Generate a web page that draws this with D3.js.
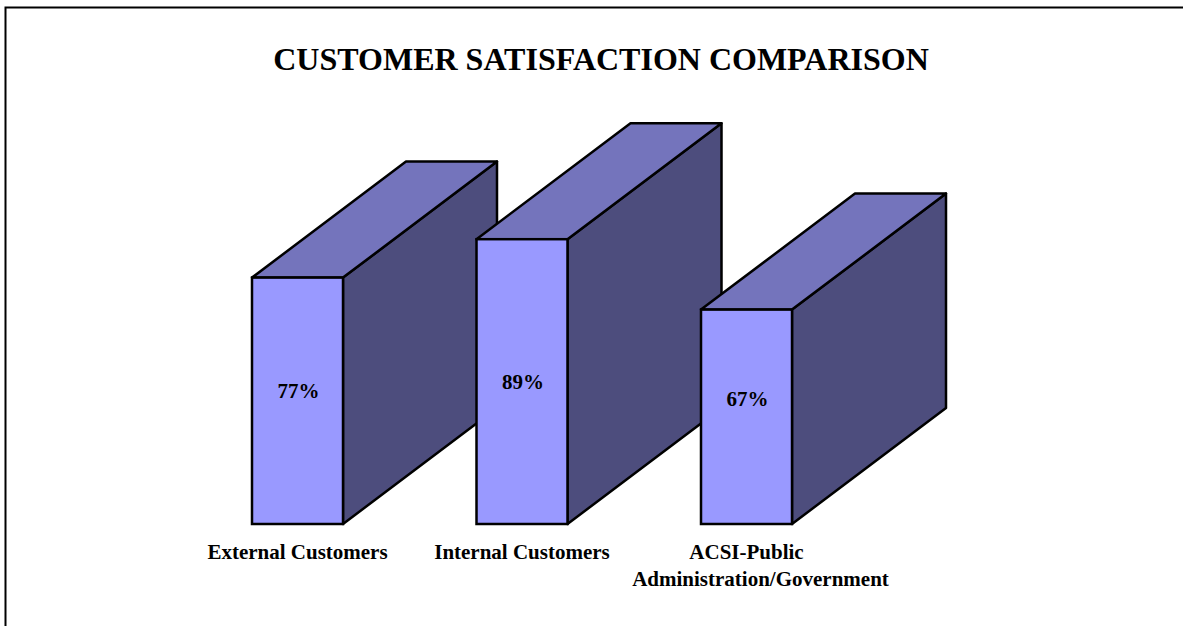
<!DOCTYPE html>
<html>
<head>
<meta charset="utf-8">
<script src="https://cdn.jsdelivr.net/npm/d3@7"></script>
<style>
  html, body { margin: 0; padding: 0; background: #fff; }
  svg { display: block; }
  text { font-family: "Liberation Serif", "Times New Roman", serif; font-weight: bold; fill: #000; }
</style>
</head>
<body>
<script>
// Satisfaction scores by customer group (percent)
const categories = ["External Customers", "Internal Customers", "ACSI-Public Administration/Government"];
const labelLines = [["External Customers"], ["Internal Customers"], ["ACSI-Public", "Administration/Government"]];
const values = [77, 89, 67];
const valueLabels = ["77%", "89%", "67%"];
const title = "CUSTOMER SATISFACTION COMPARISON";

const W = 1183, H = 626;
const svg = d3.select("body").append("svg").attr("width", W).attr("height", H);

// outer chart frame (extends past the right and bottom edges)
svg.append("rect")
  .attr("x", 5.5).attr("y", 7.5)
  .attr("width", W + 20).attr("height", H + 20)
  .attr("fill", "#fff").attr("stroke", "#000").attr("stroke-width", 2);

svg.append("text")
  .attr("x", 601).attr("y", 70)
  .attr("text-anchor", "middle")
  .style("font-size", "32px")
  .text(title);

// scales
const x = d3.scalePoint().domain(categories).range([297.5, 746.5]);
const y = d3.scaleLinear().domain([0, 100]).range([524, 204]);
const barW = 91;
const depthX = 154, depthY = -116;

const colors = { front: "#9999FF", top: "#7474BC", side: "#4D4D7D" };

const bars = svg.append("g").selectAll("g")
  .data(categories.map((c, i) => ({ c, v: values[i], label: valueLabels[i], lines: labelLines[i] })))
  .join("g");

bars.each(function(d) {
  const g = d3.select(this);
  const x0 = x(d.c) - barW / 2, x1 = x0 + barW;
  const yt = y(d.v), yb = y(0);
  const poly = pts => pts.map(p => p.join(",")).join(" ");

  // right side face
  g.append("polygon")
    .attr("points", poly([[x1, yt], [x1 + depthX, yt + depthY], [x1 + depthX, yb + depthY], [x1, yb]]))
    .attr("fill", colors.side).attr("stroke", "#000").attr("stroke-width", 2.5).attr("stroke-linejoin", "round");
  // top face
  g.append("polygon")
    .attr("points", poly([[x0, yt], [x0 + depthX, yt + depthY], [x1 + depthX, yt + depthY], [x1, yt]]))
    .attr("fill", colors.top).attr("stroke", "#000").attr("stroke-width", 2.5).attr("stroke-linejoin", "round");
  // front face
  g.append("rect")
    .attr("x", x0).attr("y", yt).attr("width", barW).attr("height", yb - yt)
    .attr("fill", colors.front).attr("stroke", "#000").attr("stroke-width", 2.5);

  // value label on the front face
  const mid = (yt + yb) / 2;
  g.append("text")
    .attr("x", x(d.c) + 1)
    .attr("y", (mid + 390) / 2 + 3)
    .attr("text-anchor", "middle")
    .style("font-size", "21px")
    .text(d.label);

  // category label below the bar
  const t = g.append("text")
    .attr("text-anchor", "middle")
    .style("font-size", "21px");
  d.lines.forEach((line, k) => {
    t.append("tspan")
      .attr("x", x(d.c) + (d.lines.length > 1 ? (k === 0 ? 0 : 14) : 0))
      .attr("y", 559 + k * 27)
      .text(line);
  });
});
</script>
</body>
</html>
